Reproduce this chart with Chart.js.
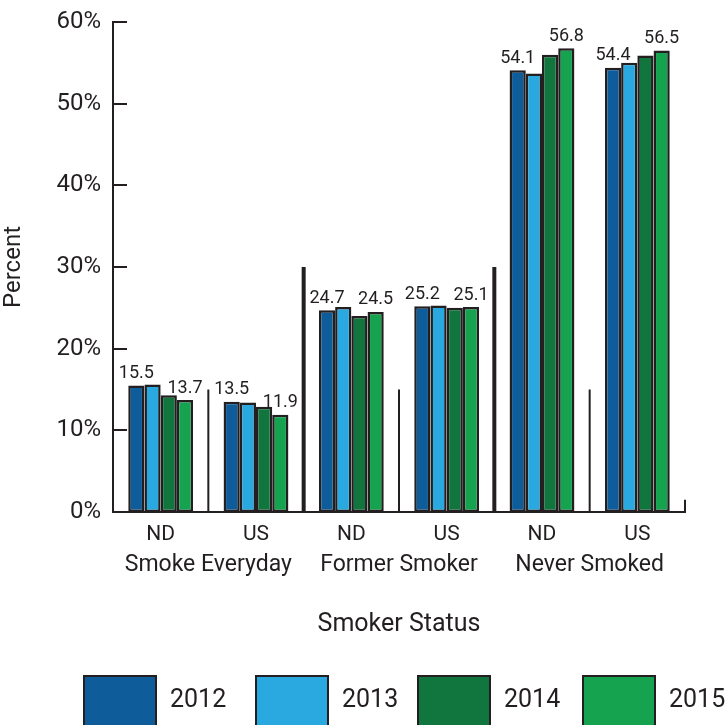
<!DOCTYPE html>
<html>
<head>
<meta charset="utf-8">
<script src="https://cdn.jsdelivr.net/npm/chart.js@4.4.1/dist/chart.umd.min.js"></script>
<style>
  html, body { margin: 0; padding: 0; background: #fff; }
  #wrap { width: 727px; height: 725px; }
</style>
</head>
<body>
<div id="wrap"><canvas id="smokeChart"></canvas></div>
<script>
const categories = ['ND', 'US', 'ND', 'US', 'ND', 'US'];
const groups = ['Smoke Everyday', 'Former Smoker', 'Never Smoked'];
const years = ['2012', '2013', '2014', '2015'];
const v2012 = [15.5, 13.5, 24.7, 25.2, 54.1, 54.4];
const v2013 = [15.6, 13.4, 25.1, 25.3, 53.7, 55.0];
const v2014 = [14.3, 12.9, 24.0, 25.0, 56.0, 55.9];
const v2015 = [13.7, 11.9, 24.5, 25.1, 56.8, 56.5];
const yTicks = [0, 10, 20, 30, 40, 50, 60];
const labelledYears = ['2012', '2015'];

const colors = ['#0f5c9b', '#29a9e0', '#11763e', '#15a34f'];
const ink = '#231f20';
const fontFamily = "Roboto, 'Liberation Sans', sans-serif";

// separators between the categories: [height in %, line width]
const separators = [[15, 2], [30, 4], [15, 2], [30, 4], [15, 2], [1.5, 2]];

const extras = {
  id: 'extras',
  afterDraw(chart) {
    const ctx = chart.ctx;
    const x = chart.scales.x, y = chart.scales.y;
    const area = chart.chartArea;
    ctx.save();
    ctx.strokeStyle = ink;
    ctx.fillStyle = ink;

    // inward tick marks on the y axis
    ctx.lineWidth = 2;
    yTicks.forEach(t => {
      if (t === 0) return;
      const py = Math.round(y.getPixelForValue(t));
      ctx.beginPath();
      ctx.moveTo(area.left, py);
      ctx.lineTo(area.left + 14, py);
      ctx.stroke();
    });

    // separators
    separators.forEach((s, i) => {
      const px = i < categories.length - 1
        ? (x.getPixelForValue(i) + x.getPixelForValue(i + 1)) / 2
        : area.right;
      ctx.lineWidth = s[1];
      ctx.beginPath();
      ctx.moveTo(px, y.getPixelForValue(0));
      ctx.lineTo(px, y.getPixelForValue(s[0]));
      ctx.stroke();
    });

    // value labels for first and last year
    ctx.font = '18px ' + fontFamily;
    ctx.textAlign = 'center';
    ctx.textBaseline = 'bottom';
    chart.data.datasets.forEach((ds, di) => {
      if (!labelledYears.includes(ds.label)) return;
      chart.getDatasetMeta(di).data.forEach((bar, i) => {
        ctx.fillText(ds.data[i].toFixed(1), bar.x, bar.y - 3);
      });
    });

    // group labels
    ctx.font = '23px ' + fontFamily;
    ctx.textBaseline = 'middle';
    groups.forEach((g, gi) => {
      const cx = (x.getPixelForValue(gi * 2) + x.getPixelForValue(gi * 2 + 1)) / 2;
      ctx.fillText(g, cx, 565);
    });

    // axis title
    ctx.font = '25px ' + fontFamily;
    ctx.fillText('Smoker Status', (area.left + area.right) / 2, 625);

    // legend
    const boxLeft = [84, 256, 418, 583];
    chart.data.datasets.forEach((ds, di) => {
      ctx.fillStyle = ds.backgroundColor;
      ctx.fillRect(boxLeft[di], 676, 72, 54);
      ctx.lineWidth = 2;
      ctx.strokeRect(boxLeft[di], 676, 72, 54);
      ctx.fillStyle = ink;
      ctx.textAlign = 'left';
      ctx.font = '25px ' + fontFamily;
      ctx.fillText(ds.label, boxLeft[di] + 86, 701);
    });
    ctx.restore();
  }
};

const seriesValues = [v2012, v2013, v2014, v2015];

new Chart(document.getElementById('smokeChart'), {
  type: 'bar',
  data: {
    labels: categories,
    datasets: years.map((yr, i) => ({
      label: yr,
      data: seriesValues[i],
      backgroundColor: colors[i],
      borderColor: ink,
      borderWidth: 2.5,
      borderSkipped: false,
      barPercentage: 1,
      categoryPercentage: 0.68
    }))
  },
  options: {
    responsive: true,
    maintainAspectRatio: false,
    animation: false,
    layout: { padding: { top: 22, right: 42, bottom: 0, left: 0 } },
    plugins: {
      legend: { display: false },
      tooltip: { enabled: false }
    },
    scales: {
      x: {
        grid: { display: false },
        border: { display: true, color: ink, width: 2 },
        ticks: { color: ink, font: { family: fontFamily, size: 21 }, padding: 2 },
        afterFit: s => { s.height = 213; }
      },
      y: {
        min: 0,
        max: 60,
        grid: { display: false },
        border: { display: true, color: ink, width: 2 },
        ticks: {
          stepSize: 10,
          color: ink,
          padding: 4,
          font: { family: fontFamily, size: 24 },
          callback: v => v + '%'
        },
        title: {
          display: true,
          text: 'Percent',
          color: ink,
          font: { family: fontFamily, size: 24 },
          padding: { top: 0, bottom: 4 }
        },
        afterFit: s => { s.width = 113; }
      }
    }
  },
  plugins: [extras]
});
</script>
</body>
</html>
